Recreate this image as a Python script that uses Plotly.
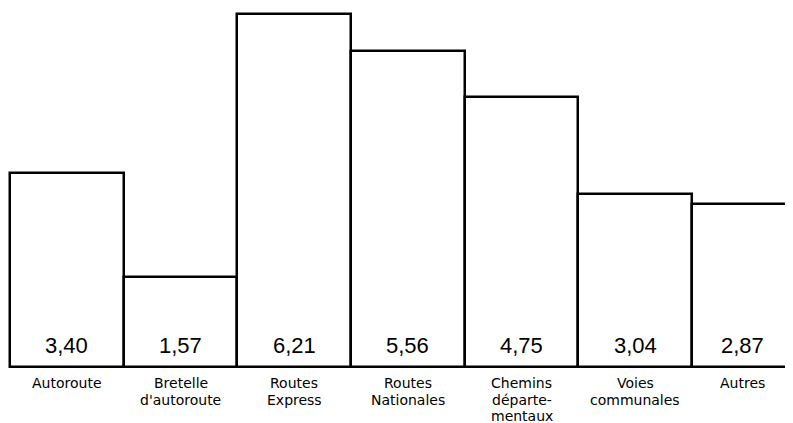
import plotly.graph_objects as go

# road categories and values (French decimal comma in labels)
categories = ["Autoroute", "Bretelle<br>d'autoroute", "Routes<br>Express", "Routes<br>Nationales",
              "Chemins<br>départe-<br>mentaux", "Voies<br>communales", "Autres"]
values = [3.40, 1.57, 6.21, 5.56, 4.75, 3.04, 2.87]
value_labels = ["3,40", "1,57", "6,21", "5,56", "4,75", "3,04", "2,87"]

x_pos = list(range(len(values)))

# page body has an 8px margin, so the figure is sized to fit the window
x_range = [-0.5176, 6.388]

fig = go.Figure()
fig.add_trace(go.Bar(
    x=x_pos, y=values, width=1,
    marker=dict(color="white", line=dict(color="black", width=2.5)),
    hoverinfo="skip",
))

# the last bar runs off the right edge: centre its texts on the visible part
def label_x(x):
    if x + 0.5 > x_range[1]:
        return (x - 0.5 + x_range[1]) / 2
    return x

# value labels at the foot of each bar
for x, lab in zip(x_pos, value_labels):
    fig.add_annotation(x=label_x(x), y=0, yanchor="bottom", yshift=7, text=lab, showarrow=False,
                       font=dict(family="Liberation Sans, Arial", size=22, color="black"))

# category labels under the baseline, one annotation per line for tighter leading
for x, cat in zip(x_pos, categories):
    for k, line in enumerate(cat.split("<br>")):
        fig.add_annotation(x=label_x(x), y=0, yref="paper", yanchor="top", yshift=-6 - 16.5 * k,
                           text=line, showarrow=False, borderpad=0,
                           font=dict(family="DejaVu Sans", size=14, color="black"))

fig.update_layout(
    width=785, height=415,
    margin=dict(l=0, r=0, t=0, b=55),
    paper_bgcolor="white", plot_bgcolor="white",
    showlegend=False, bargap=0,
    xaxis=dict(range=x_range, visible=False, fixedrange=True),
    yaxis=dict(range=[-0.025, 6.313], visible=False, fixedrange=True),
)

fig.write_html("out.html")
